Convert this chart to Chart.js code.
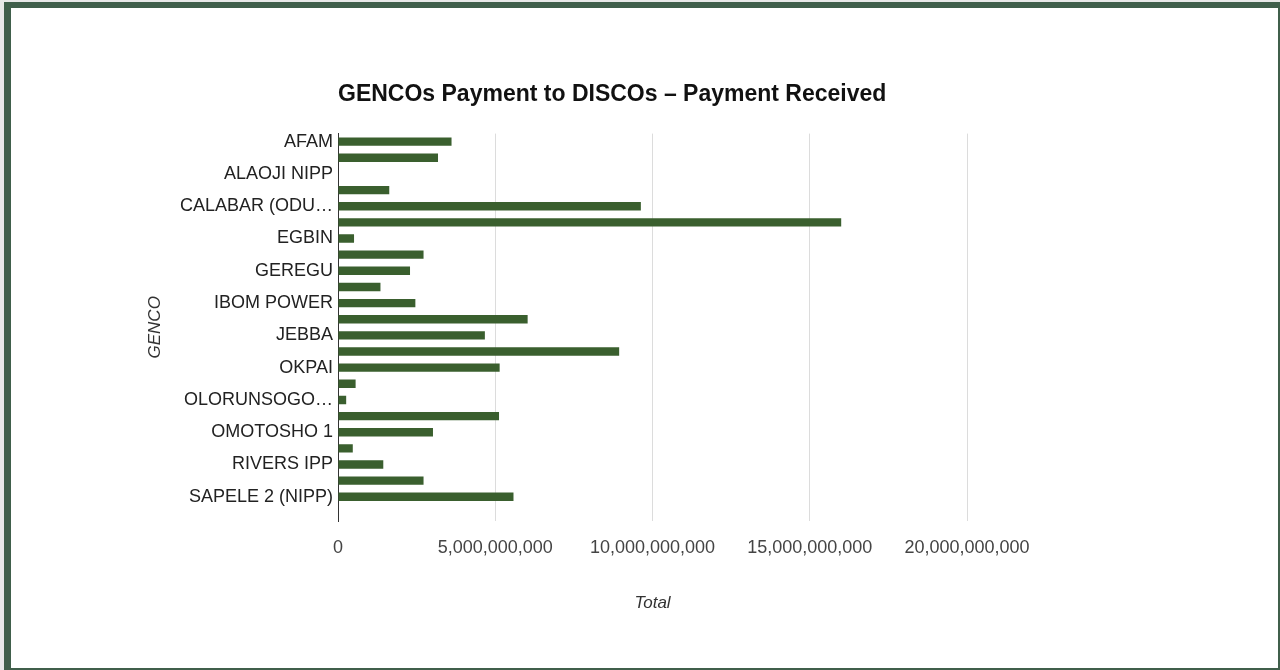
<!DOCTYPE html>
<html>
<head>
<meta charset="utf-8">
<script src="https://cdn.jsdelivr.net/npm/chart.js@4"></script>
<style>
  body { margin: 0; background: #e8e8e8; width: 1280px; height: 670px; overflow: hidden; }
  .frame {
    position: absolute; left: 4px; top: 2px;
    width: 1267px; height: 660px;
    background: #fff;
    border-style: solid; border-color: #405f4b;
    border-width: 6px 2px 2px 7px;
  }
  canvas { display: block; }
</style>
</head>
<body>
<div class="frame"><canvas id="myChart" width="1267" height="660"></canvas></div>
<script>
// DATA
const gencos = [
  "AFAM", "AFAM VI", "ALAOJI NIPP", "AZURA-EDO", "CALABAR (ODUKPANI)",
  "DELTA", "EGBIN", "GBARAIN NIPP", "GEREGU", "GEREGU NIPP",
  "IBOM POWER", "IHOVBOR NIPP", "JEBBA", "KAINJI", "OKPAI",
  "OLORUNSOGO", "OLORUNSOGO NIPP", "OMOKU", "OMOTOSHO 1", "OMOTOSHO 2",
  "RIVERS IPP", "SAPELE", "SAPELE 2 (NIPP)"
];
const totals = [
  3610000000, 3180000000, 0, 1630000000, 9630000000,
  16000000000, 510000000, 2720000000, 2290000000, 1350000000,
  2460000000, 6030000000, 4670000000, 8940000000, 5140000000,
  560000000, 260000000, 5120000000, 3020000000, 470000000,
  1440000000, 2720000000, 5580000000
];
const xTicks = [0, 5000000000, 10000000000, 15000000000, 20000000000];

const FONT = "'Liberation Sans', Arial, sans-serif";

// shorten long labels the way the original does
const measure = document.createElement("canvas").getContext("2d");
measure.font = "18px " + FONT;
function fitLabel(text) {
  const maxW = 156;
  if (measure.measureText(text).width <= maxW) return text;
  let s = text;
  while (s.length > 1 && measure.measureText(s + "…").width > maxW) {
    s = s.slice(0, -1);
  }
  return s.trim() + "…";
}

const ctx = document.getElementById("myChart");

new Chart(ctx, {
  type: "bar",
  data: {
    datasets: [
      {
        label: "Total",
        data: gencos.map((g, i) => ({ x: totals[i], y: i })),
        backgroundColor: "#3a5f2e",
        categoryPercentage: 1,
        barPercentage: 0.52,
      },
    ],
  },
  options: {
    indexAxis: "y",
    responsive: false,
    animation: false,
    layout: { padding: { left: 130, right: 311, top: 0, bottom: 0 } },
    plugins: {
      legend: { display: false },
      tooltip: { enabled: false },
      title: {
        display: true,
        text: "GENCOs Payment to DISCOs – Payment Received",
        align: "start",
        fullSize: false,
        color: "#111",
        font: { family: FONT, size: 23, weight: "bold" },
        padding: { top: 73, bottom: 25 },
      },
    },
    scales: {
      y: {
        type: "linear",
        reverse: true,
        offset: false,
        bounds: "data",
        min: -0.5,
        max: gencos.length + 0.5,
        afterBuildTicks: (scale) => {
          scale.ticks = gencos.map((g, i) => ({ value: i }));
        },
        afterFit: (scale) => {
          scale.width = 197;
        },
        grid: { display: false, drawTicks: false, offset: false },
        border: { display: true, color: "#333", width: 1 },
        ticks: {
          autoSkip: false,
          padding: 5,
          color: "#222",
          font: { family: FONT, size: 18 },
          callback: (v) => (v % 2 === 0 ? fitLabel(gencos[v]) : ""),
        },
        title: {
          display: true,
          text: "GENCO",
          color: "#333",
          font: { family: FONT, size: 17, style: "italic" },
          padding: { top: 4, bottom: 4 },
        },
      },
      x: {
        min: 0,
        max: 20000000000,
        afterBuildTicks: (scale) => {
          scale.ticks = xTicks.map((v) => ({ value: v }));
        },
        afterFit: (scale) => {
          scale.height = 147;
        },
        grid: {
          drawTicks: false,
          color: (c) => (c.tick && c.tick.value === 0 ? "rgba(0,0,0,0)" : "#dcdcdc"),
        },
        border: { display: false },
        ticks: {
          padding: 16,
          color: "#444",
          font: { family: FONT, size: 18 },
          callback: (v) => Number(v).toLocaleString("en-US"),
        },
        title: {
          display: true,
          text: "Total",
          color: "#333",
          font: { family: FONT, size: 17, style: "italic" },
          padding: { top: 4, bottom: 55 },
        },
      },
    },
  },
});
</script>
</body>
</html>
